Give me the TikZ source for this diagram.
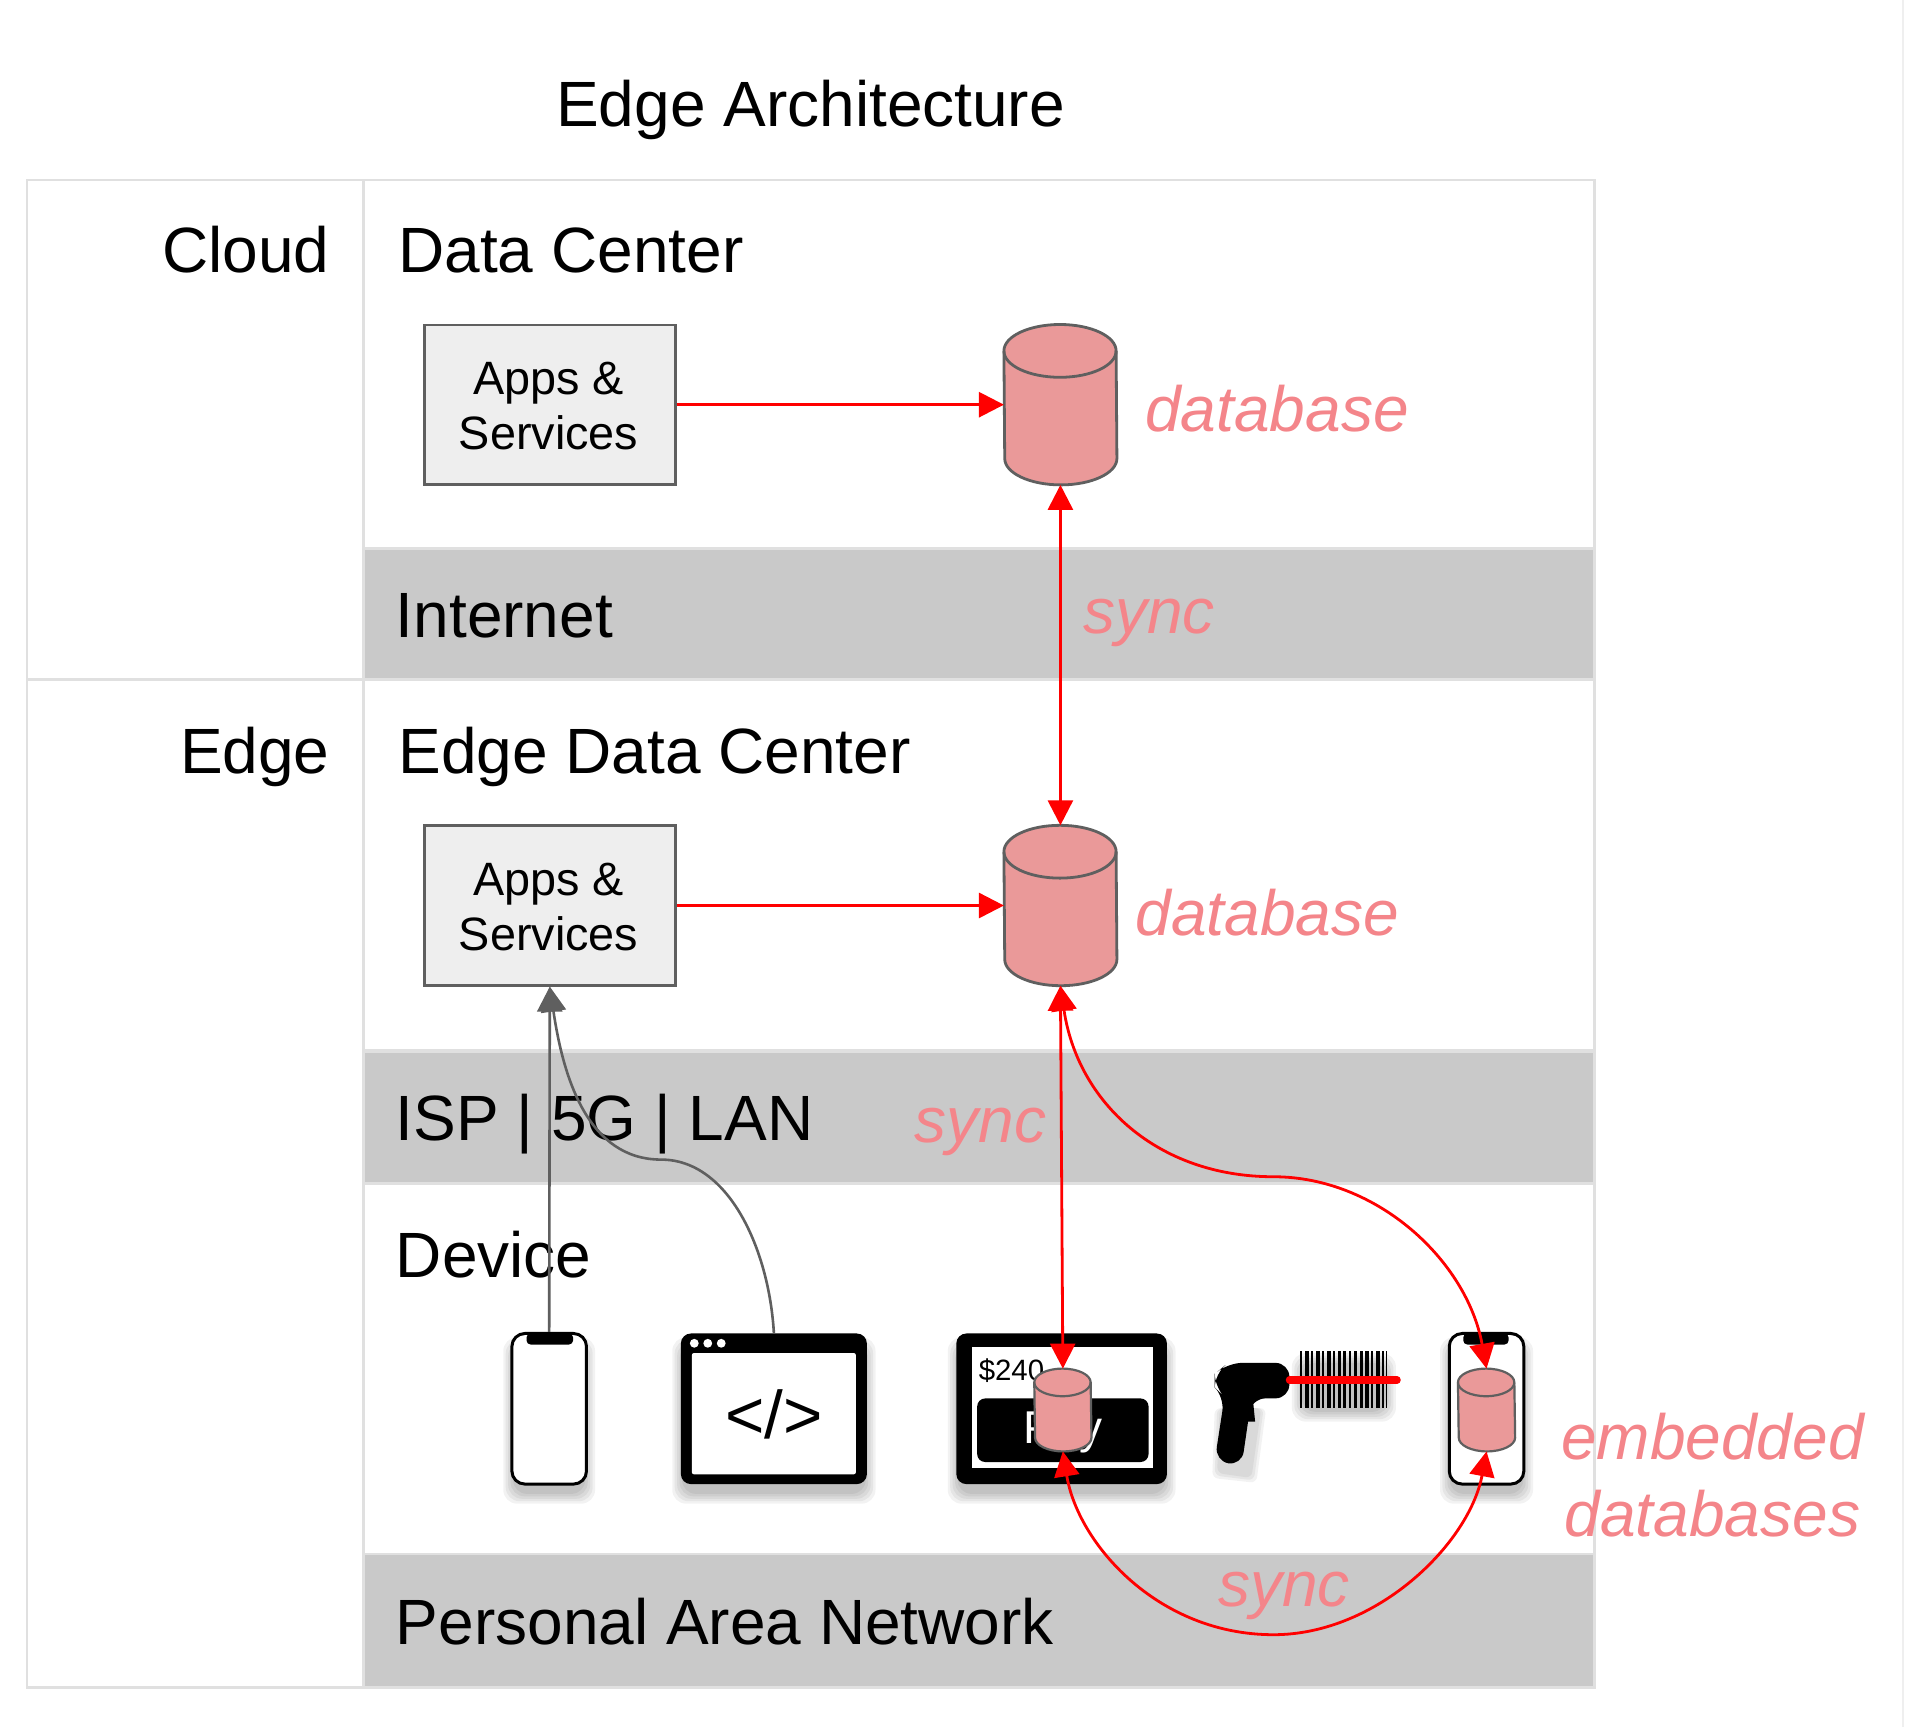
\documentclass[tikz,border=0pt]{standalone}
\usepackage{fontspec}
\setmainfont{Liberation Sans}
\usetikzlibrary{arrows.meta,calc}
\definecolor{gridc}{HTML}{E0E0E0}
\definecolor{bandc}{HTML}{C9C9C9}
\definecolor{appfill}{HTML}{EEEEEE}
\definecolor{edgec}{HTML}{5F5F5F}
\definecolor{dbfill}{HTML}{EA9999}
\definecolor{labelc}{HTML}{F4858A}
\tikzset{
  cell/.style={draw=gridc,line width=1.4pt,fill=white,rectangle,inner sep=0pt},
  band/.style={draw=gridc,line width=1.4pt,fill=bandc,rectangle,inner sep=0pt},
  rowlabel/.style={font=\fontsize{32}{38}\selectfont,inner sep=0pt,text=black},
  redlabel/.style={font=\fontsize{32}{38.6}\selectfont\itshape,inner sep=0pt,text=labelc,align=center},
  appbox/.style={draw=edgec,line width=1.3pt,fill=appfill,rectangle,inner sep=0pt,
     minimum width=125.6pt,minimum height=79.8pt},
  apptext/.style={inner sep=0pt,font=\fontsize{23.4}{27}\selectfont,anchor=base},
  bigdb/.style={rectangle,inner sep=0pt,minimum width=56.1pt,minimum height=79.8pt},
  smalldb/.style={rectangle,inner sep=0pt,minimum width=28.2pt,minimum height=41pt},
  sel/.style={draw=red,line width=1.4pt,-{Triangle[length=12.5pt,width=12.5pt]}},
  redboth/.style={draw=red,line width=1.4pt,{Triangle[length=12.5pt,width=12.5pt]}-{Triangle[length=12.5pt,width=12.5pt]}},
  grayarr/.style={draw=edgec,line width=1.3pt,-{Triangle[length=12.5pt,width=12.5pt]}},
  phonebody/.style={draw=black,line width=1.5pt,fill=white,rectangle,rounded corners=6.5pt,inner sep=0pt,minimum width=37.3pt,minimum height=75.3pt},
  blackbody/.style={fill=black,rectangle,rounded corners=5pt,inner sep=0pt},
  softshadow/.style={fill=black,opacity=0.05},
}
\newcommand{\softbox}[4]{%
  \foreach \e in {9,7,5,3,1}{%
    \fill[softshadow,rounded corners=7pt] (#1-\e,#2-\e+9) rectangle (#3+\e,#4+\e+9);}%
}
% name, x radius, y radius, line width
\newcommand{\cylinderat}[4]{%
  \filldraw[draw=edgec,fill=dbfill,line width=#4,line join=round]
    ([yshift=-#3]#1.north west) arc[start angle=180,end angle=0,x radius=#2,y radius=#3]
    -- ([yshift=#3]#1.south east) arc[start angle=0,end angle=-180,x radius=#2,y radius=#3]
    -- cycle;
  \draw[draw=edgec,line width=#4]
    ([yshift=-#3]#1.north west) arc[start angle=180,end angle=360,x radius=#2,y radius=#3];%
}
\begin{document}
\begin{tikzpicture}[x=0.61224pt,y=-0.61224pt]
\useasboundingbox (0,0) rectangle (1568,1410.4);
\fill[white] (0,0) rectangle (1568,1410.4);
\draw[gridc!50,line width=0.8pt] (1554,0) -- (1554,1410.4);
% grid
\node[cell,minimum width=168.4pt,minimum height=249.8pt] (cloudcell) at (159.5,351) {};
\node[cell,minimum width=168.4pt,minimum height=503.8pt] (edgecell) at (159.5,966.5) {};
\node[cell,minimum width=615.3pt,minimum height=184.3pt] (dc) at (799.5,297.5) {};
\node[band,minimum width=615.3pt,minimum height=65.5pt] (inet) at (799.5,501.5) {};
\node[cell,minimum width=615.3pt,minimum height=185.5pt] (edc) at (799.5,706.5) {};
\node[band,minimum width=615.3pt,minimum height=66.1pt] (isp) at (799.5,912.5) {};
\node[cell,minimum width=615.3pt,minimum height=185.5pt] (dev) at (799.5,1118) {};
\node[band,minimum width=615.3pt,minimum height=66.7pt] (pan) at (799.5,1323.5) {};
% labels
\node[rowlabel,anchor=base] (title) at (662,103) {Edge Architecture};
\node[rowlabel,anchor=base east] (cloud) at (269.5,222.5) {Cloud};
\node[rowlabel,anchor=base east] (edge) at (269.5,631.5) {Edge};
\node[rowlabel,anchor=base west] (datacenter) at (325,222.5) {Data Center};
\node[rowlabel,anchor=base west] (internet) at (323,520.5) {Internet};
\node[rowlabel,anchor=base west] (edgedc) at (325,631.5) {Edge Data Center};
\node[rowlabel,anchor=base west] (isplabel) at (323,931.5) {ISP | 5G | LAN};
\node[rowlabel,anchor=base west] (device) at (323,1043.5) {Device};
\node[rowlabel,anchor=base west] (panlabel) at (323,1343) {Personal Area Network};
% boxes
\node[appbox] (appsA) at (449,330.5) {};
\node[apptext] (appsAa) at (448,322) {Apps \&};
\node[apptext] (appsAb) at (448,367) {Services};
\node[appbox] (appsB) at (449,739.5) {};
\node[apptext] (appsBa) at (448,731) {Apps \&};
\node[apptext] (appsBb) at (448,776) {Services};
% phone A
\softbox{420}{1092}{477}{1210}
\node[phonebody] (phoneA) at (448.5,1150.5) {};
\fill[black,rounded corners=2pt] (430,1089) rectangle (468,1098);
% browser
\softbox{558}{1092}{706}{1210}
\node[blackbody,minimum width=93pt,minimum height=75.3pt] (browser) at (632,1150.5) {};
\node[fill=white,rectangle,rounded corners=1pt,inner sep=0pt,minimum width=82pt,minimum height=60.6pt] (browserscreen) at (632,1154.5) {};
\foreach \dx in {567,578,589}{\fill[white] (\dx,1097) circle[radius=3.6];}
\node[inner sep=0pt,font=\fontsize{33.7}{40}\selectfont] (code) at (632,1155) {</>};
% POS
\softbox{783}{1092}{951}{1210}
\node[blackbody,minimum width=105.3pt,minimum height=75.3pt] (pos) at (867,1150.5) {};
\node[fill=white,rectangle,inner sep=0pt,minimum width=90.6pt,minimum height=60.6pt] (posscreen) at (868,1149.5) {};
\node[blackbody,minimum width=85.7pt,minimum height=31.8pt,rounded corners=4pt] (paybtn) at (868,1168) {};
\node[inner sep=0pt,text=white,font=\fontsize{23}{28}\selectfont] (paytext) at (868,1170) {Pay};
\node[inner sep=0pt,font=\fontsize{14.7}{18}\selectfont,anchor=base west] (price) at (799,1127) {\$240};
% scanner
\softbox{1064}{1105}{1131}{1143}
\foreach \e in {6,4,2}{
  \fill[softshadow,rounded corners=3pt] (998-\e,1150) -- (1028+\e,1150) -- (1020+\e,1205+\e) -- (996-\e,1201+\e) -- cycle;}
\fill[black,rounded corners=7pt] (1003,1113) -- (1053,1113) -- (1053,1142) -- (1022,1142) -- (1014,1197) -- (992,1193) -- (1000,1141) -- (992,1133) -- (992,1122) -- cycle;
\fill[black] (1020,1141) -- (1023,1141) -- (1025,1161) -- (1018,1161) -- cycle;
\foreach \bx/\bw in {1062/1.3,1066/2.6,1071/1.3,1075/2.6,1080/1.3,1084/2.6,1089/1.3,1093/2.0,1097/2.6,1102/1.3,1106/2.6,1111/2.0,1115/3.0,1120/1.3,1124/3.0,1129/1.3,1132/1.0}{
  \fill[black] (\bx,1103) rectangle (\bx+\bw,1150);}
\draw[red,line width=3.6pt,line cap=round] (1053,1127) -- (1141,1127);
% phone B
\softbox{1185}{1092}{1243}{1210}
\node[phonebody] (phoneB) at (1214,1150.5) {};
\fill[black,rounded corners=2pt] (1195,1089) rectangle (1232,1098);
% databases
\node[bigdb] (dbA) at (866,330.5) {};
\cylinderat{dbA}{28.05pt}{13.2pt}{1.4pt}
\node[bigdb] (dbB) at (866,739.5) {};
\cylinderat{dbB}{28.05pt}{13.2pt}{1.4pt}
\node[smalldb] (dbPos) at (868,1151.5) {};
\cylinderat{dbPos}{14.1pt}{6.9pt}{1.1pt}
\node[smalldb] (dbPhone) at (1214,1151.5) {};
\cylinderat{dbPhone}{14.1pt}{6.9pt}{1.1pt}
% connectors
\coordinate (grayMid) at (540,947);
\coordinate (redTop) at (1040,961);
\coordinate (redBot) at (1040,1335);
\draw[sel] (appsA) -- (dbA);
\draw[sel] (appsB) -- (dbB);
\draw[redboth] (dbA.south) -- (dbB.north);
\draw[redboth] (dbB.south) -- (dbPos.north);
\draw[redboth] (dbB.south) .. controls (880,900) and (945,961) .. (redTop) .. controls (1125,961) and (1198,1030) .. (dbPhone.north);
\draw[redboth] (dbPos.south) .. controls (880,1260) and (945,1335) .. (redBot) .. controls (1125,1335) and (1200,1260) .. (dbPhone.south);
\draw[grayarr] (phoneA.north) -- (appsB.south);
\draw[grayarr] (browser.north) .. controls (628,1020) and (595,947) .. (grayMid) .. controls (480,947) and (460,880) .. (appsB.south);
% red labels
\node[redlabel,anchor=base west] (dbAl) at (935,352) {database};
\node[redlabel,anchor=base west] (dbBl) at (927,764) {database};
\node[redlabel,anchor=base] (syncA) at (938.5,517) {sync};
\node[redlabel,anchor=base] (syncB) at (800.5,933) {sync};
\node[redlabel,anchor=base] (syncC) at (1048.5,1312) {sync};
\node[redlabel,anchor=base] (embeddedA) at (1398.5,1192) {embedded};
\node[redlabel,anchor=base] (embeddedB) at (1398.5,1255) {databases};
\end{tikzpicture}
\end{document}
